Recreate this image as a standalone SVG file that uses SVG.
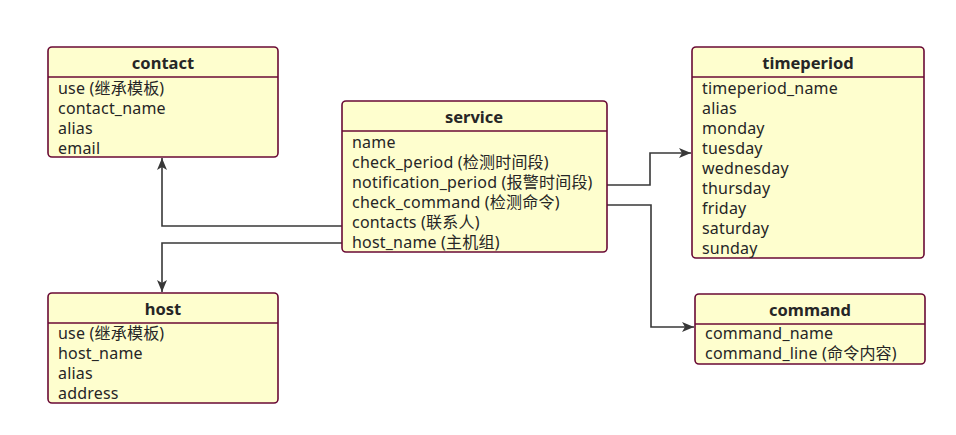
<svg xmlns="http://www.w3.org/2000/svg" width="956" height="435" viewBox="0 0 956 435">
<style>
.box{fill:#FEFECE;stroke:#6a0a35;stroke-width:1.6}
.div{stroke:#6a0a35;stroke-width:1.6}
.t{font-family:"Noto Sans","Noto Sans CJK SC",sans-serif;font-size:16px;letter-spacing:0.2px;fill:#262626}
.h{font-family:"Noto Sans","Noto Sans CJK SC",sans-serif;font-size:16.5px;font-weight:bold;fill:#262626;text-anchor:middle}
.c{fill:none;stroke:#383838;stroke-width:1.6}
</style>
<defs>
<marker id="a" viewBox="0 0 12 10" refX="12" refY="5" markerWidth="12" markerHeight="10" markerUnits="userSpaceOnUse" orient="auto">
<path d="M0,0 L12,5 L0,10 L3,5 Z" fill="#383838"/>
</marker>
</defs>
<rect width="956" height="435" fill="#fff"/>
<g id="connectors">
<path class="c" d="M342,226 H162 V158" marker-end="url(#a)"/>
<path class="c" d="M342,243 H162 V292" marker-end="url(#a)"/>
<path class="c" d="M607,185 H650 V153 H691" marker-end="url(#a)"/>
<path class="c" d="M607,205 H651 V327 H694" marker-end="url(#a)"/>
</g>
<g id="contact">
<rect class="box" x="48" y="47" width="230" height="110" rx="4"/>
<line class="div" x1="48" y1="77" x2="278" y2="77"/>
<text class="h" x="163" y="69">contact</text>
<text class="t" x="58" y="94">use (继承模板)</text>
<text class="t" x="58" y="114">contact_name</text>
<text class="t" x="58" y="134">alias</text>
<text class="t" x="58" y="154">email</text>
</g>
<g id="service">
<rect class="box" x="342" y="101" width="265" height="151" rx="4"/>
<line class="div" x1="342" y1="131" x2="607" y2="131"/>
<text class="h" x="474" y="123">service</text>
<text class="t" x="352" y="148">name</text>
<text class="t" x="352" y="168">check_period (检测时间段)</text>
<text class="t" x="352" y="188">notification_period (报警时间段)</text>
<text class="t" x="352" y="208">check_command (检测命令)</text>
<text class="t" x="352" y="228">contacts (联系人)</text>
<text class="t" x="352" y="248">host_name (主机组)</text>
</g>
<g id="timeperiod">
<rect class="box" x="692" y="47" width="232" height="211" rx="4"/>
<line class="div" x1="692" y1="77" x2="924" y2="77"/>
<text class="h" x="808" y="69">timeperiod</text>
<text class="t" x="702" y="94">timeperiod_name</text>
<text class="t" x="702" y="114">alias</text>
<text class="t" x="702" y="134">monday</text>
<text class="t" x="702" y="154">tuesday</text>
<text class="t" x="702" y="174">wednesday</text>
<text class="t" x="702" y="194">thursday</text>
<text class="t" x="702" y="214">friday</text>
<text class="t" x="702" y="234">saturday</text>
<text class="t" x="702" y="254">sunday</text>
</g>
<g id="host">
<rect class="box" x="48" y="293" width="230" height="110" rx="4"/>
<line class="div" x1="48" y1="323" x2="278" y2="323"/>
<text class="h" x="163" y="315">host</text>
<text class="t" x="58" y="339">use (继承模板)</text>
<text class="t" x="58" y="359">host_name</text>
<text class="t" x="58" y="379">alias</text>
<text class="t" x="58" y="399">address</text>
</g>
<g id="command">
<rect class="box" x="695" y="294" width="230" height="70" rx="4"/>
<line class="div" x1="695" y1="324" x2="925" y2="324"/>
<text class="h" x="810" y="316">command</text>
<text class="t" x="705" y="339">command_name</text>
<text class="t" x="705" y="359">command_line (命令内容)</text>
</g>
</svg>
